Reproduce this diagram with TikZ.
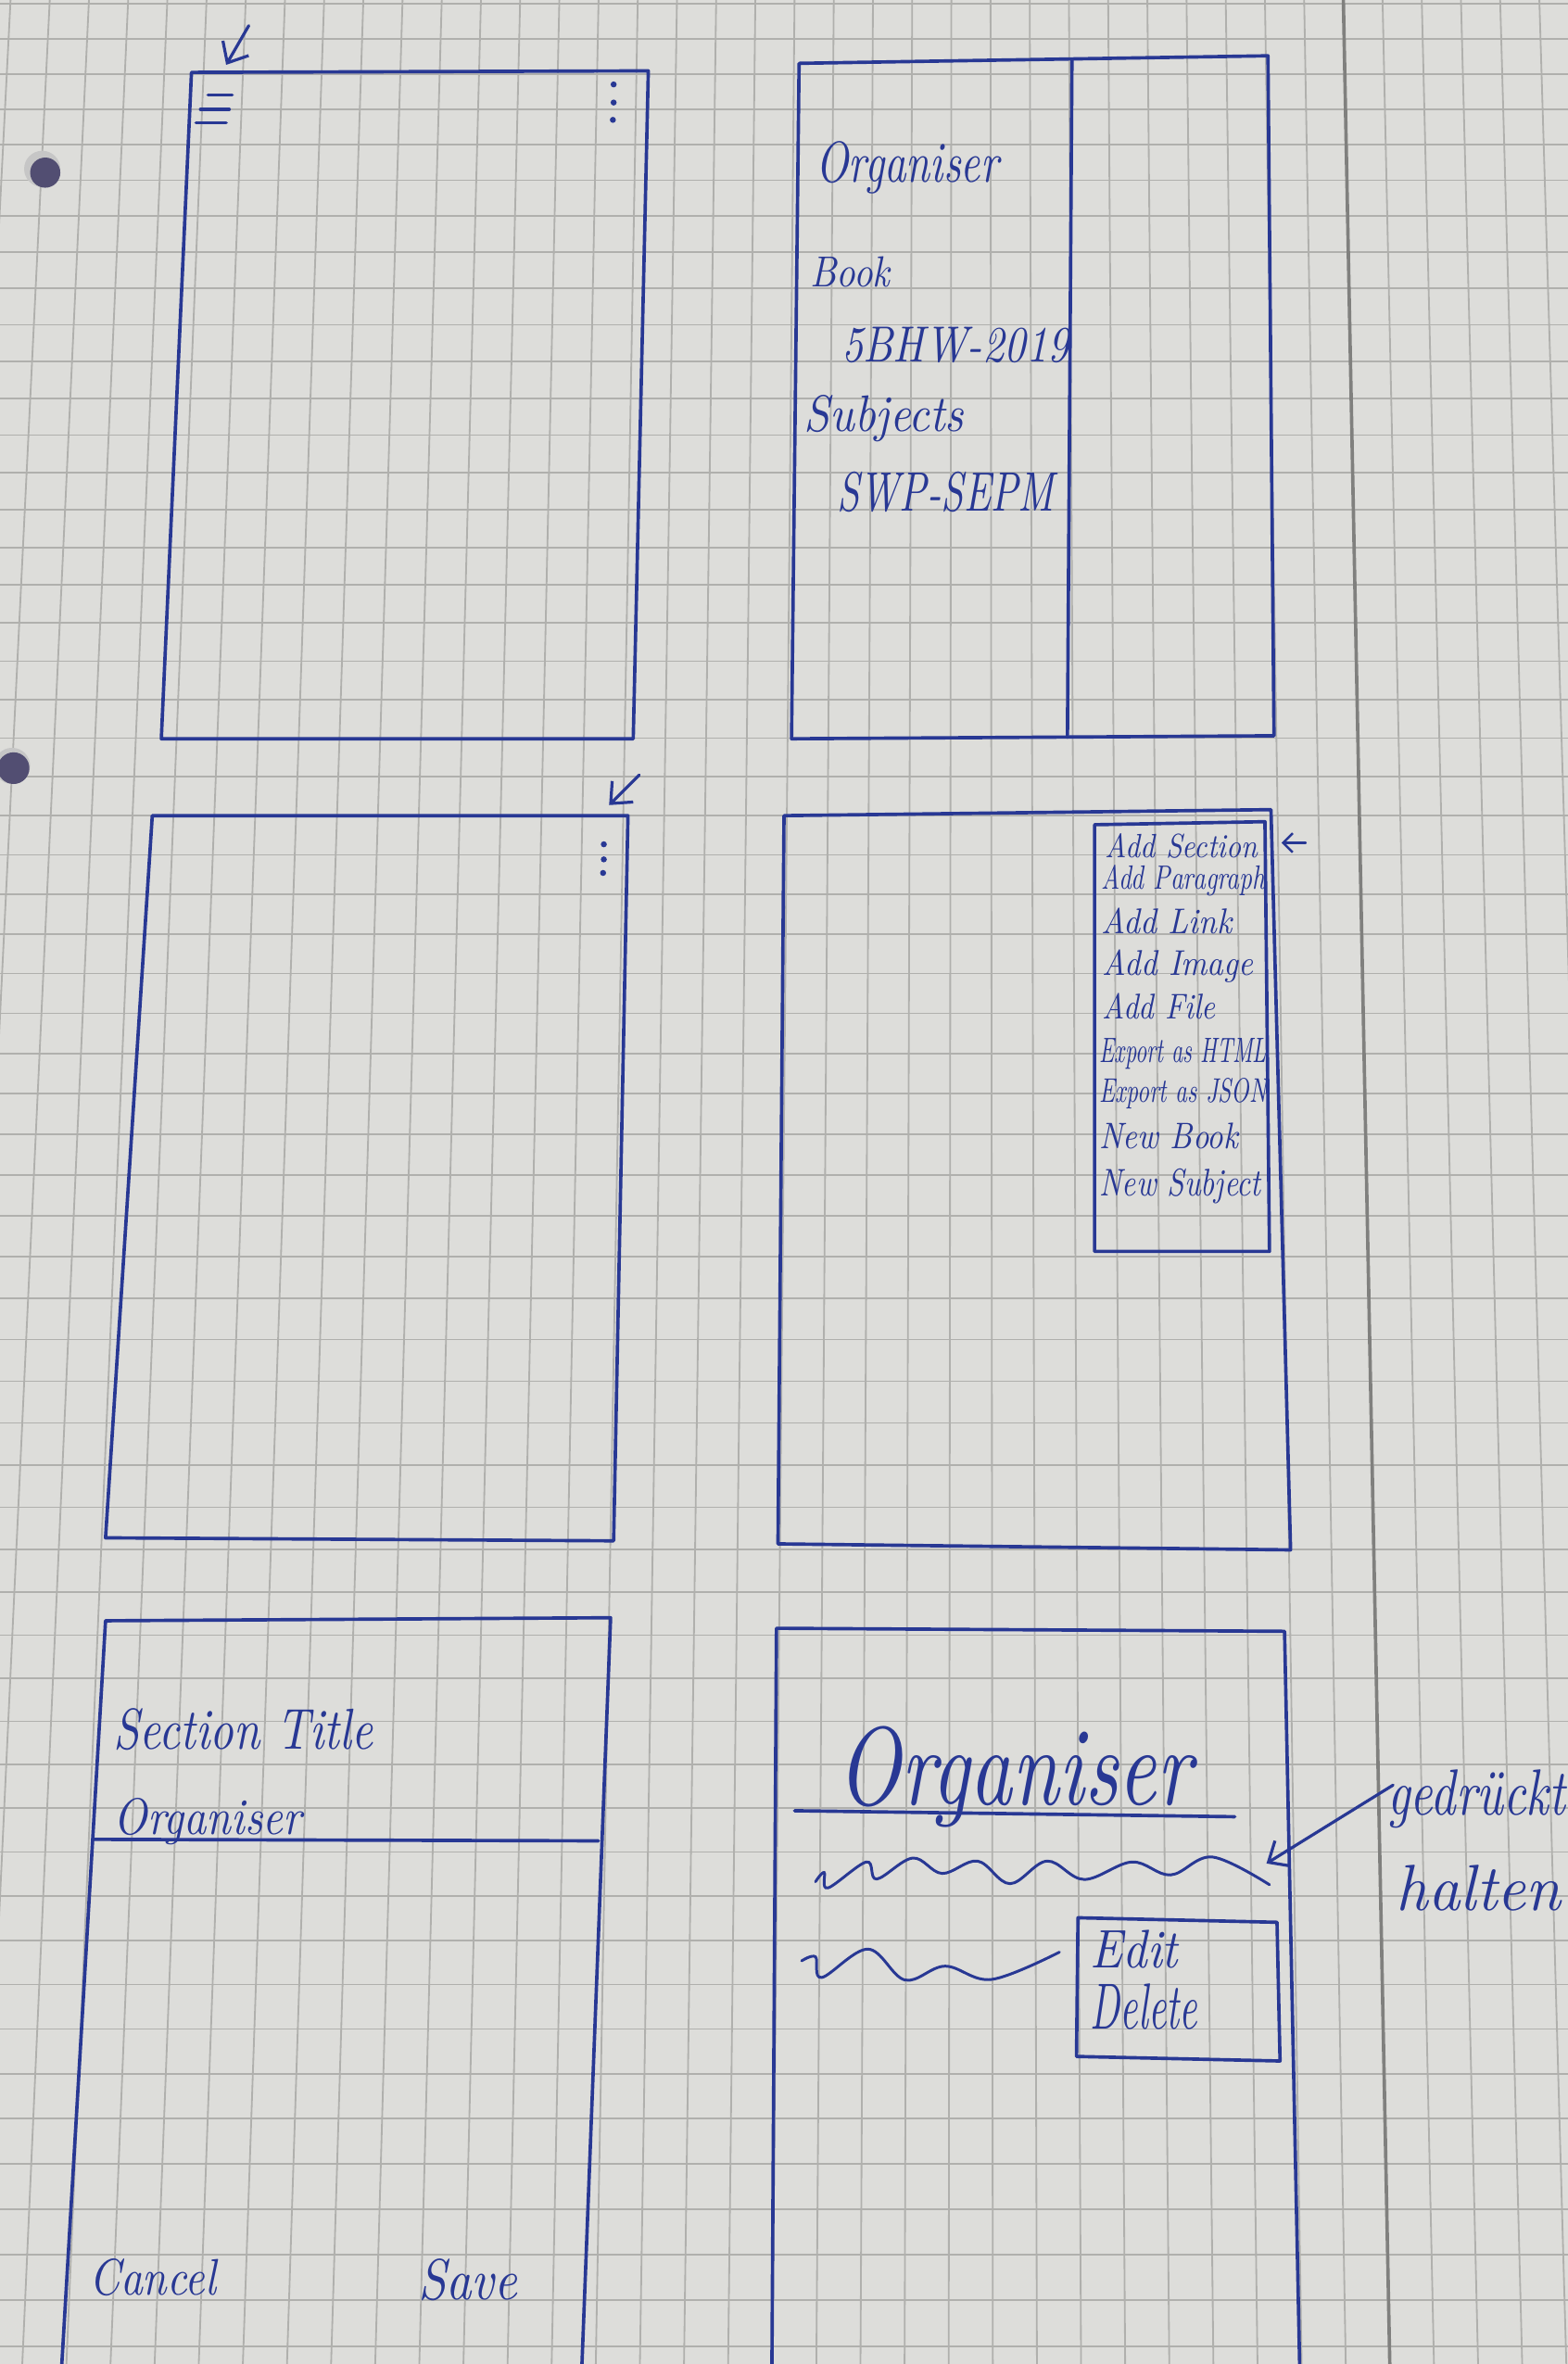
\documentclass[tikz,border=0pt]{standalone}
\usepackage{graphicx}
\usetikzlibrary{arrows.meta}
\definecolor{paper}{RGB}{221,221,218}
\definecolor{gridc}{RGB}{176,176,173}
\definecolor{marginc}{RGB}{128,128,126}
\definecolor{ink}{RGB}{40,56,148}
\definecolor{holec}{RGB}{82,78,114}
\newlength\pxu
\setlength\pxu{0.025cm}
% handwritten label: width, height above baseline (in px units), text
\newcommand\hw[3]{\resizebox{#1\pxu}{#2\pxu}{\itshape #3}}

\begin{document}
\begin{tikzpicture}[x=0.025cm,y=-0.025cm,
  pen/.style={draw=ink, line width=1.6pt, line join=round, line cap=round},
  thinpen/.style={draw=ink, line width=1.3pt, line cap=round},
  gridline/.style={draw=gridc, line width=0.8pt},
  hand/.style={text=ink, inner sep=0pt, anchor=base west},
  arr/.style={pen, line width=1.4pt, -{Straight Barb[length=8pt,width=14pt]}},
  smallarr/.style={pen, line width=1.1pt, -{Straight Barb[length=4.5pt,width=9pt]}}]

% paper
\useasboundingbox (0,0) rectangle (1040,1568);
\fill[paper] (0,0) rectangle (1040,1568);

% squared paper, slightly in perspective
\begin{scope}
  \clip (0,0) rectangle (1040,1568);
  \foreach \k in {-3,...,57}{
    \pgfmathsetmacro\yy{49+23.32*(\k)+0.0642*(\k)*(\k)}
    \draw[gridline] (0,\yy) -- (1040,\yy);
  }
  \foreach \j in {-7,...,36}{
    \pgfmathsetmacro\xt{891-26*(\j)}
    \pgfmathsetmacro\xb{645+(\xt-645)*1.1254}
    \draw[gridline] (\xt,0) -- (\xb,1568);
  }
  \draw[draw=marginc, line width=1.6pt] (891,0) -- (921.8,1568);
  % punched holes
  \fill[gray!45] (28,112) circle (12);
  \fill[holec] (30,114.5) circle (10);
  \fill[gray!45] (8,508) circle (12);
  \fill[holec] (9,509.5) circle (10.5);
\end{scope}

% ---------- screen 1: start screen ----------
\draw[pen] (127,48) -- (430,47) -- (420,490) -- (107,490) -- cycle;
\draw[pen] (138,63) -- (154,63);
\draw[pen] (133,72.5) -- (152,72.5);
\draw[pen] (130,81.5) -- (150,81.5);
\fill[ink] (407,56) circle (2);
\fill[ink] (407,68) circle (2);
\fill[ink] (406.5,79.5) circle (2);
\coordinate (a1tail) at (165,17);
\coordinate (a1tip) at (150,43);
\draw[arr] (a1tail) -- (a1tip);

% ---------- screen 2: drawer ----------
\draw[pen] (530,42) -- (841,37) -- (845,488) -- (525,490) -- cycle;
\draw[pen] (711,40) -- (708,489);
\node[hand] (orgA) at (541,121) {\hw{121}{27}{Organiser}};
\node[hand] (book) at (537,190) {\hw{53}{20}{Book}};
\node[hand] (klasse) at (558,240) {\hw{151}{23}{5BHW-2019}};
\node[hand] (subj) at (533,286) {\hw{106}{24}{Subjects}};
\node[hand] (swp) at (555,339) {\hw{144}{26}{SWP-SEPM}};

% ---------- screen 3: overflow button ----------
\draw[pen] (101,541) -- (416.5,541) -- (407,1022) -- (70,1020) -- cycle;
\fill[ink] (400.5,560) circle (2);
\fill[ink] (400.5,570) circle (2);
\fill[ink] (400,579) circle (2);
\coordinate (a3tail) at (424,514);
\coordinate (a3tip) at (404,534);
\draw[arr] (a3tail) -- (a3tip);

% ---------- screen 4: overflow menu ----------
\draw[pen] (520,541) -- (843,537) -- (856,1028) -- (516,1024) -- cycle;
\draw[pen] (726,547) -- (839,545) -- (842,830) -- (726,830) -- cycle;
\node[hand] (m1) at (733,569) {\hw{101}{16}{Add Section}};
\node[hand] (m2) at (730,590) {\hw{109}{16}{Add Paragraph}};
\node[hand] (m3) at (730,619) {\hw{87}{17}{Add Link}};
\node[hand] (m4) at (731,647) {\hw{100}{17}{Add Image}};
\node[hand] (m5) at (731,676) {\hw{75}{17}{Add File}};
\node[hand] (m6) at (729,705) {\hw{111}{16}{Export as HTML}};
\node[hand] (m7) at (729,731) {\hw{111}{16}{Export as JSON}};
\node[hand] (m8) at (729,762) {\hw{92}{17}{New Book}};
\node[hand] (m9) at (729,793) {\hw{107}{18}{New Subject}};
\coordinate (a4tail) at (866,559);
\coordinate (a4tip) at (850,559);
\draw[smallarr] (a4tail) -- (a4tip);

% ---------- screen 5: add section ----------
\draw[pen] (41,1568) -- (70,1075) -- (405,1073) -- (386,1568);
\node[hand] (stitle) at (75,1160) {\hw{172}{27}{Section Title}};
\node[hand] (orgB) at (75,1217) {\hw{125}{24}{Organiser}};
\draw[pen] (62,1220) -- (397,1221);
\node[hand] (cancel) at (59,1522) {\hw{84}{24}{Cancel}};
\node[hand] (save) at (277,1525) {\hw{66}{27}{Save}};

% ---------- screen 6: long press ----------
\draw[pen] (512,1568) -- (515,1080) -- (852,1082) -- (862,1568);
\node[hand] (orgC) at (555,1197) {\hw{235}{52}{Organiser}};
\draw[pen] (527,1201) -- (819,1205);
\draw[thinpen] plot[smooth, tension=0.6] coordinates {
  (540.9,1248.1) (546.6,1242.0) (549.1,1252.2) (574.7,1235.0) (581.5,1246.3)
  (605.4,1232.4) (624.9,1242.6) (648.4,1234.4) (669.9,1249.4) (694.5,1234.4)
  (719.1,1246.6) (750.8,1235.0) (776.4,1243.6) (804.1,1231.7) (842.0,1250.1)};
\draw[thinpen] plot[smooth, tension=0.6] coordinates {
  (531.7,1300.6) (540.9,1297.9) (545.0,1311.6) (575.7,1292.8) (600.3,1313.3)
  (626.9,1304.1) (657.7,1312.9) (702.7,1294.8)};
\draw[pen] (715,1272) -- (847,1275) -- (849,1367) -- (714,1364) -- cycle;
\node[hand] (edit) at (723,1305) {\hw{58}{25}{Edit}};
\node[hand] (delete) at (723,1346) {\hw{71}{30}{Delete}};
\node[hand] (gedr) at (920,1204) {\hw{118}{30}{gedrückt}};
\node[hand] (halten) at (926,1267) {\hw{109}{30}{halten}};
\coordinate (a6tail) at (924,1184);
\coordinate (a6tip) at (840,1236);
\draw[arr] (a6tail) -- (a6tip);

\end{tikzpicture}
\end{document}
